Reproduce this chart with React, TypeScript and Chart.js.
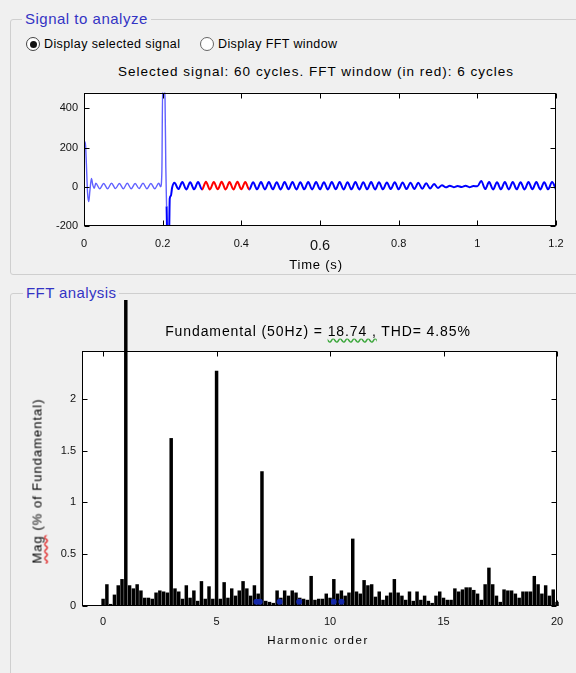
import React, { useEffect, useRef } from 'react';
import { Chart, registerables } from 'chart.js';

Chart.register(...registerables);

// ---------------- Selected signal (top) ----------------
const sigStartT = [0, 0.002, 0.004, 0.006, 0.009, 0.012, 0.015, 0.019, 0.022, 0.026];
const sigStartV = [150, 230, 210, 120, -30, -76, -20, 42, 12, -8];
const osc1Start = 0.03;
const osc2Start = 0.23;
const oscStep = 0.01;
// 0.03 .. 0.19 s
const osc1V = [18, -10, 17, -10, 18, -9, 17, -10, 18, -10, 17, -9, 18, -10, 17, -10, 18];
const spikeT = [0.195, 0.198, 0.2, 0.203, 0.206, 0.208, 0.21, 0.212, 0.216, 0.218, 0.221, 0.224];
const spikeV = [0, 80, 520, 500, 450, 100, -100, -270, -280, -60, -45, -5];
// 0.23 .. 1.20 s
const osc2V = [
  20, -12, 24, -14, 23, -13, 24, -14, 25, -14,
  24, -13, 25, -14, 24, -14, 25, -13, 24, -14,
  23, -13, 24, -14, 24, -13, 23, -14, 24, -13,
  24, -14, 23, -13, 24, -14, 24, -13, 23, -14,
  24, -13, 24, -14, 23, -13, 24, -14, 23, -13,
  24, -14, 23, -13, 22, -12, 23, -13, 22, -12,
  21, -11, 20, -10, 18, -9, 14, -6, 8, -3,
  5, -2, 4, -1, 5, -2, 4, 2, 30, -12,
  24, -14, 23, -13, 24, -14, 24, -13, 23, -14,
  24, -13, 24, -14, 23, -13, 24, -14,
];
const fftWindowStart = 0.3;
const fftWindowEnd = 0.42;
const lightUntil = 0.21;

// ---------------- FFT analysis (bottom) ----------------
const harmStep = 1 / 6; // 6-cycle window -> 1/6 harmonic resolution
const magV = [
  0.07, 0.21, 0.02, 0.11, 0.2, 0.26,
  100,
  0.2, 0.17, 0.21, 0.15, 0.08, 0.08, 0.07, 0.13, 0.15, 0.14, 0.13,
  1.62,
  0.17, 0.14, 0.07, 0.2, 0.08, 0.15, 0.05, 0.24, 0.07, 0.19, 0.07,
  2.27,
  0.07, 0.23, 0.08, 0.17, 0.1, 0.15, 0.24, 0.17, 0.1, 0.2, 0.12,
  1.3,
  0.05, 0.04, 0.03, 0.15, 0.08, 0.15, 0.1, 0.15, 0.13, 0.08, 0.07,
  0.06, 0.29, 0.06, 0.07, 0.07, 0.12, 0.08, 0.26, 0.12, 0.15, 0.1, 0.13,
  0.65,
  0.14, 0.12, 0.25, 0.2, 0.21, 0.09, 0.14, 0.06, 0.1, 0.13, 0.26,
  0.13, 0.1, 0.06, 0.14, 0.05, 0.14, 0.06, 0.1, 0.05, 0.03, 0.1, 0.14, 0.08, 0.06,
  0.06, 0.17, 0.14, 0.16, 0.18, 0.18, 0.155, 0.12, 0.06, 0.21,
  0.37,
  0.21, 0.1, 0.04, 0.16, 0.15, 0.15, 0.12, 0.08, 0.14, 0.14, 0.14, 0.29, 0.21, 0.12, 0.2, 0.1, 0.16, 0.04,
];
const markerH = [6.76, 6.9, 7.78, 8.64, 10.16, 10.5];
const markerV = [0.04, 0.04, 0.04, 0.04, 0.04, 0.04];

const FONT = '"Liberation Sans", Arial, sans-serif';

const boxPlugin = {
  id: 'matlabBox',
  beforeDraw(chart: any) {
    const { ctx, chartArea: a } = chart;
    ctx.save();
    ctx.fillStyle = '#ffffff';
    ctx.fillRect(a.left, a.top, a.right - a.left, a.bottom - a.top);
    ctx.restore();
  },
  afterDraw(chart: any) {
    const { ctx, chartArea: a, scales } = chart;
    ctx.save();
    ctx.strokeStyle = '#000';
    ctx.lineWidth = 1;
    const L = Math.round(a.left) + 0.5;
    const R = Math.round(a.right) - 0.5;
    const T = Math.round(a.top) + 0.5;
    const B = Math.round(a.bottom) - 0.5;
    ctx.strokeRect(L, T, R - L, B - T);
    const tl = 5;
    ctx.beginPath();
    scales.x.ticks.forEach((t: any) => {
      const px = Math.round(scales.x.getPixelForValue(t.value)) + 0.5;
      ctx.moveTo(px, B); ctx.lineTo(px, B - tl);
      ctx.moveTo(px, T); ctx.lineTo(px, T + tl);
    });
    scales.y.ticks.forEach((t: any) => {
      const py = Math.round(scales.y.getPixelForValue(t.value)) + 0.5;
      ctx.moveTo(L, py); ctx.lineTo(L + tl, py);
      ctx.moveTo(R, py); ctx.lineTo(R - tl, py);
    });
    ctx.stroke();
    ctx.restore();
  },
};

const plainNum = (v: any) => String(Math.round(Number(v) * 1000) / 1000);

function buildSignal() {
  const pts: { x: number; y: number }[] = [];
  sigStartT.forEach((t, i) => pts.push({ x: t, y: sigStartV[i] }));
  osc1V.forEach((v, i) => pts.push({ x: +(osc1Start + i * oscStep).toFixed(4), y: v }));
  spikeT.forEach((t, i) => pts.push({ x: t, y: spikeV[i] }));
  osc2V.forEach((v, i) => pts.push({ x: +(osc2Start + i * oscStep).toFixed(4), y: v }));
  return pts;
}

export default function App() {
  const topRef = useRef<HTMLCanvasElement>(null);
  const botRef = useRef<HTMLCanvasElement>(null);

  useEffect(() => {
    const sig = buildSignal();
    const top = new Chart(topRef.current as HTMLCanvasElement, {
      type: 'line',
      data: {
        datasets: [
          {
            data: sig,
            borderColor: '#0000ff',
            borderWidth: 2,
            pointRadius: 0,
            cubicInterpolationMode: 'monotone',
            segment: {
              borderColor: (c: any) => {
                const a = c.p0.parsed.x, b = c.p1.parsed.x;
                if (a >= fftWindowStart - 1e-9 && b <= fftWindowEnd + 1e-9) return '#ff0000';
                return a < lightUntil ? '#6060ff' : '#0000ff';
              },
              borderWidth: (c: any) => (c.p0.parsed.x < lightUntil ? 1.4 : 2),
            },
          } as any,
        ],
      },
      options: {
        animation: false,
        responsive: false,
        events: [],
        layout: { padding: { top: 9, right: 20, left: 0, bottom: 0 } },
        plugins: { legend: { display: false }, tooltip: { enabled: false } },
        scales: {
          x: {
            type: 'linear',
            min: 0,
            max: 1.2,
            afterFit: (s: any) => { s.height = 49; },
            grid: { display: false, drawTicks: false },
            border: { display: false },
            ticks: {
              stepSize: 0.2,
              padding: 11,
              color: '#111',
              autoSkip: false,
              maxRotation: 0,
              callback: plainNum,
              font: (c: any) => ({ family: FONT, size: c.tick && Math.abs(c.tick.value - 0.6) < 1e-6 ? 14.5 : 11 }),
            },
          },
          y: {
            min: -200,
            max: 480,
            afterFit: (s: any) => { s.width = 84; },
            grid: { display: false, drawTicks: false },
            border: { display: false },
            ticks: { stepSize: 200, includeBounds: false, padding: 6, color: '#111', callback: plainNum, font: { family: FONT, size: 11 } },
          },
        },
      } as any,
      plugins: [boxPlugin],
    });

    const bars = magV.map((v, k) => ({ x: k * harmStep, y: v }));
    const markers = markerH.map((h, i) => ({ x: h, y: markerV[i] }));
    const bot = new Chart(botRef.current as HTMLCanvasElement, {
      type: 'bar',
      data: {
        datasets: [
          {
            type: 'line',
            data: markers,
            showLine: false,
            pointRadius: 3,
            pointBackgroundColor: '#1428a8',
            pointBorderWidth: 0,
            order: 0,
          } as any,
          {
            type: 'bar',
            data: bars,
            backgroundColor: '#000',
            borderWidth: 0,
            clip: false,
            barPercentage: 0.92,
            categoryPercentage: 1,
            order: 1,
          } as any,
        ],
      },
      options: {
        animation: false,
        responsive: false,
        events: [],
        layout: { padding: { top: 51, right: 19, left: 0, bottom: 0 } },
        plugins: { legend: { display: false }, tooltip: { enabled: false } },
        scales: {
          x: {
            type: 'linear',
            min: -0.93,
            max: 20,
            offset: false,
            afterFit: (s: any) => { s.height = 67; },
            grid: { display: false, drawTicks: false, offset: false },
            border: { display: false },
            ticks: { stepSize: 5, includeBounds: false, padding: 9, color: '#111', autoSkip: false, maxRotation: 0, callback: plainNum, font: { family: FONT, size: 11 } },
          },
          y: {
            min: 0,
            max: 2.46,
            afterFit: (s: any) => { s.width = 82; },
            grid: { display: false, drawTicks: false },
            border: { display: false },
            ticks: { stepSize: 0.5, includeBounds: false, padding: 6, color: '#111', callback: plainNum, font: { family: FONT, size: 11 } },
          },
        },
      } as any,
      plugins: [boxPlugin],
    });

    return () => { top.destroy(); bot.destroy(); };
  }, []);

  const abs = (s: React.CSSProperties): React.CSSProperties => ({ position: 'absolute', ...s });
  const text: React.CSSProperties = { fontFamily: FONT, color: '#000', whiteSpace: 'nowrap', lineHeight: 1 };

  return (
    <div style={abs({ left: 0, top: 0, width: 576, height: 673, background: '#f0f0f0', overflow: 'hidden' })}>
      {/* group boxes */}
      <div style={abs({ left: 10, top: 19, width: 620, height: 254, border: '1px solid #cfcfcf', borderRadius: 3 })} />
      <div style={abs({ left: 10, top: 293, width: 620, height: 420, border: '1px solid #cfcfcf', borderRadius: 3 })} />
      <div style={abs({ ...text, left: 22, top: 11, padding: '0 3px', background: '#f0f0f0', color: '#3434c4', fontSize: 15, letterSpacing: 0.5 })}>Signal to analyze</div>
      <div style={abs({ ...text, left: 23, top: 285, padding: '0 3px', background: '#f0f0f0', color: '#3434c4', fontSize: 15, letterSpacing: 0.4 })}>FFT analysis</div>

      {/* radio buttons */}
      <div style={abs({ left: 26, top: 37, width: 12, height: 12, borderRadius: '50%', border: '1px solid #444', background: '#fff' })}>
        <div style={abs({ left: 2.5, top: 2.5, width: 7, height: 7, borderRadius: '50%', background: '#111' })} />
      </div>
      <div style={abs({ ...text, left: 44, top: 38, fontSize: 12.5, letterSpacing: 0.4 })}>Display selected signal</div>
      <div style={abs({ left: 200, top: 37, width: 12, height: 12, borderRadius: '50%', border: '1px solid #666', background: '#fff' })} />
      <div style={abs({ ...text, left: 218, top: 38, fontSize: 12.5, letterSpacing: 0.4 })}>Display FFT window</div>

      {/* top chart */}
      <canvas ref={topRef} width={576} height={195} style={abs({ left: 0, top: 80, width: 576, height: 195 })} />
      <div style={abs({ ...text, left: 0, width: 632, top: 65, textAlign: 'center', fontSize: 13.5, letterSpacing: 1 })}>
        Selected signal: 60 cycles. FFT window (in red): 6 cycles
      </div>
      <div style={abs({ ...text, left: 0, width: 632, top: 258, textAlign: 'center', fontSize: 13, letterSpacing: 0.8 })}>Time (s)</div>

      {/* bottom chart */}
      <canvas ref={botRef} width={576} height={373} style={abs({ left: 0, top: 300, width: 576, height: 373 })} />
      <div style={abs({ ...text, left: 0, width: 636, top: 324, textAlign: 'center', fontSize: 14, letterSpacing: 0.9 })}>
        Fundamental (50Hz) = <span style={{ textDecoration: 'underline wavy #3aa63a', textUnderlineOffset: 2 }}>18.74 ,</span> THD= 4.85%
      </div>
      <div style={abs({ ...text, left: 0, width: 636, top: 635, textAlign: 'center', fontSize: 11.5, letterSpacing: 1.6 })}>Harmonic order</div>
      <div style={abs({ ...text, left: 37, top: 481, fontSize: 13, letterSpacing: 1, transform: 'translate(-50%, -50%) rotate(-90deg)' })}>
        <span style={{ textDecoration: 'underline wavy #e02020', textUnderlineOffset: 2 }}>Mag</span> (% of Fundamental)
      </div>
    </div>
  );
}
